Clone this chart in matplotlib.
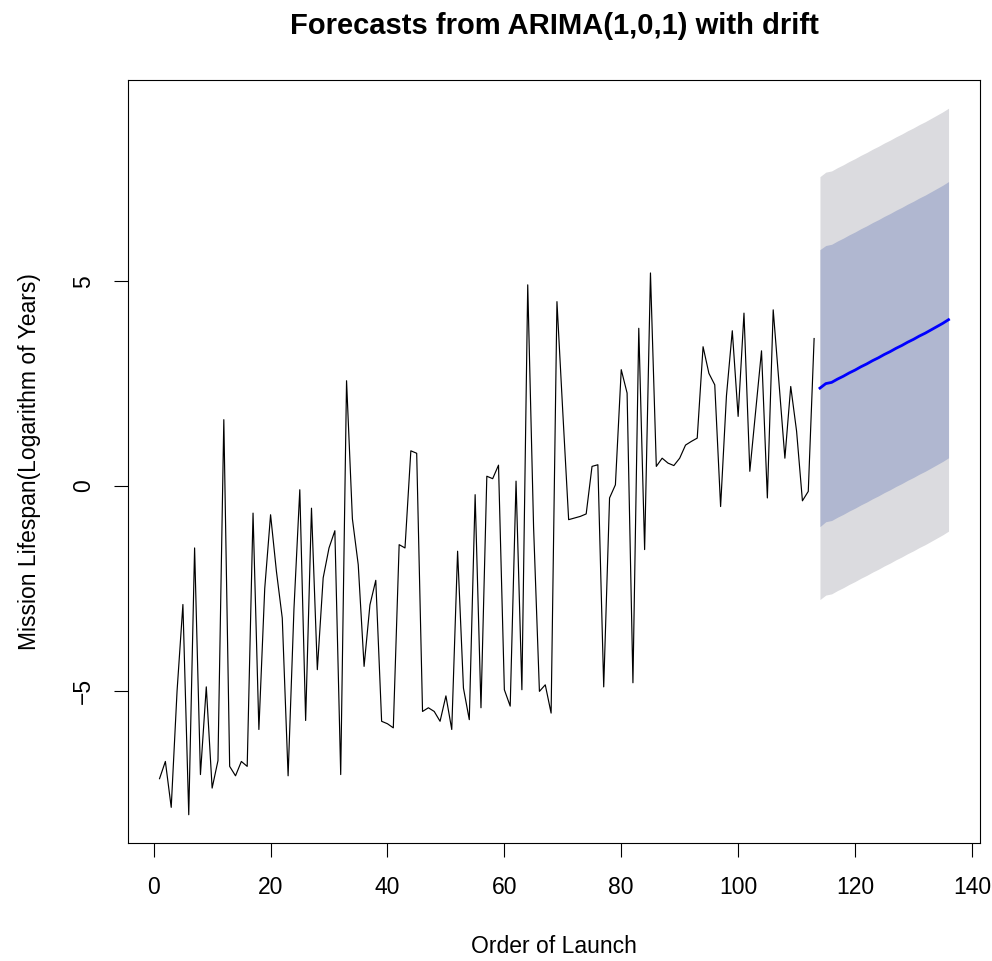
import numpy as np
import matplotlib
matplotlib.use("Agg")
import matplotlib.pyplot as plt

# Observed series (log of mission lifespan in years), launches 1..113
lifespan = [
    -7.14, -6.72, -7.84, -5.0, -2.89, -8.02, -1.51, -7.04, -4.9, -7.37,
    -6.7, 1.62, -6.84, -7.07, -6.72, -6.84, -0.66, -5.94, -2.5, -0.7,
    -2.08, -3.22, -7.07, -3.0, -0.09, -5.72, -0.54, -4.48, -2.24, -1.51,
    -1.09, -7.04, 2.57, -0.8, -1.92, -4.4, -2.9, -2.3, -5.74, -5.8,
    -5.9, -1.43, -1.51, 0.86, 0.8, -5.5, -5.41, -5.5, -5.74, -5.12,
    -5.94, -1.59, -4.93, -5.7, -0.21, -5.41, 0.24, 0.18, 0.51, -4.97,
    -5.37, 0.12, -4.97, 4.91, -1.0, -5.01, -4.85, -5.54, 4.5, 1.8,
    -0.82, -0.78, -0.74, -0.68, 0.48, 0.52, -4.9, -0.29, 0.03, 2.84,
    2.27, -4.8, 3.85, -1.55, 5.2, 0.48, 0.68, 0.56, 0.5, 0.68,
    1.0, 1.09, 1.17, 3.4, 2.75, 2.47, -0.5, 2.2, 3.79, 1.7,
    4.22, 0.36, 1.83, 3.3, -0.29, 4.3, 2.5, 0.68, 2.43, 1.34,
    -0.36, -0.13, 3.6,
]

# Forecast (h = 23 steps, launches 114..136)
fc_mean = [
    2.39, 2.50, 2.53, 2.61, 2.68, 2.76, 2.83, 2.91, 2.98, 3.06,
    3.13, 3.21, 3.28, 3.36, 3.43, 3.51, 3.58, 3.66, 3.73, 3.81,
    3.89, 3.97, 4.06,
]
half80 = [
    3.38, 3.37, 3.37, 3.37, 3.37, 3.37, 3.37, 3.37, 3.37, 3.37,
    3.37, 3.37, 3.37, 3.37, 3.37, 3.37, 3.37, 3.37, 3.37, 3.37,
    3.37, 3.37, 3.37,
]
half95 = [
    5.16, 5.16, 5.16, 5.16, 5.16, 5.16, 5.16, 5.16, 5.16, 5.16,
    5.16, 5.16, 5.16, 5.16, 5.16, 5.16, 5.16, 5.16, 5.16, 5.16,
    5.16, 5.16, 5.16,
]

title = "Forecasts from ARIMA(1,0,1) with drift"
xlabel = "Order of Launch"
ylabel = "Mission Lifespan(Logarithm of Years)"

plt.rcParams["font.family"] = ["Liberation Sans", "DejaVu Sans"]

x_obs = np.arange(1, len(lifespan) + 1)
x_fc = np.arange(len(lifespan) + 1, len(lifespan) + len(fc_mean) + 1)
mean = np.array(fc_mean)
h80 = np.array(half80)
h95 = np.array(half95)

fig = plt.figure(figsize=(9.92, 9.61), dpi=100)
ax = fig.add_axes([0.129, 0.1228, 0.859, 0.794])

ax.fill_between(x_fc, mean - h95, mean + h95, color="#dbdbdf", lw=0)
ax.fill_between(x_fc, mean - h80, mean + h80, color="#b0b7d0", lw=0)
ax.plot(x_obs, lifespan, color="black", lw=0.85)
ax.plot(x_fc, mean, color="#0000ff", lw=2.0)

# R-style axis ranges (4% padding)
xall = np.concatenate([x_obs, x_fc])
yall = np.concatenate([lifespan, mean - h95, mean + h95])
xr = xall.max() - xall.min()
yr = yall.max() - yall.min()
ax.set_xlim(xall.min() - 0.04 * xr, xall.max() + 0.04 * xr)
ax.set_ylim(yall.min() - 0.04 * yr, yall.max() + 0.04 * yr)

ax.set_xticks(np.arange(0, 141, 20))
ax.set_yticks([-5, 0, 5])
ax.tick_params(axis="both", direction="out", length=10, width=0.8,
               labelsize=16.5, pad=14)
for lab in ax.get_yticklabels():
    lab.set_rotation(90)
    lab.set_va("center")

for s in ax.spines.values():
    s.set_linewidth(0.8)

ax.set_title(title, fontsize=21, fontweight="bold", pad=33)
ax.set_xlabel(xlabel, fontsize=16.5, labelpad=26)
ax.set_ylabel(ylabel, fontsize=16.5, labelpad=22)

fig.savefig("out.png", dpi=100)
